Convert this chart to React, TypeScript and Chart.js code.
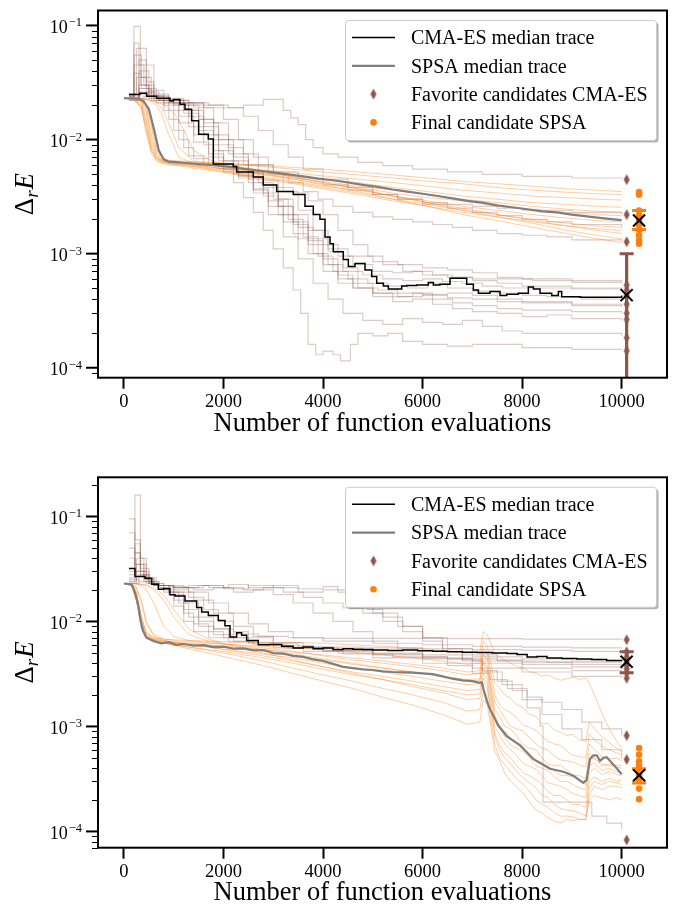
import React, { useEffect, useRef } from "react";
import { Chart, registerables } from "chart.js";

Chart.register(...registerables);

const FONT = "'Liberation Serif', 'Times New Roman', serif";
const BROWN = "#8c564b";
const ORANGE = "#ff7f0e";
const MILLI = 1e-3; // all ΔrE values below are written in units of 1e-3

const xTickValues = [0, 2000, 4000, 6000, 8000, 10000];
const yMajorExponents = [-4, -3, -2, -1];
const xTitle = "Number of function evaluations";
const legendLabels = [
  "CMA-ES median trace",
  "SPSA median trace",
  "Favorite candidates CMA-ES",
  "Final candidate SPSA",
];

const FAV_X = 10100;
const FINAL_X = 10350;

type Pair = [number, number];

// ===================== TOP PANEL =====================
const topCma01: Pair[] = [[100,23],[200,98],[330,30],[500,24],[800,21],[1100,16],[1400,11],[1700,7.5],[2000,5.2],[2200,4.2],[2400,3.1],[2600,2.3],[2800,1.6],[3000,1.1],[3200,0.75],[3400,0.48],[3550,0.3],[3700,0.16],[3850,0.13],[4000,0.14],[4200,0.13],[4350,0.115],[4550,0.16],[4700,0.2],[5000,0.19],[5300,0.2],[5600,0.17],[6000,0.16],[6500,0.155],[7000,0.16],[8000,0.15],[9000,0.145],[10000,0.142]];
const topCma02: Pair[] = [[100,25],[250,63],[450,45],[600,25],[900,22],[1200,17],[1500,12],[1800,8],[2000,6.5],[2300,4.8],[2600,3.4],[2900,2.2],[3200,1.4],[3500,0.9],[3800,0.55],[4100,0.4],[4400,0.3],[4800,0.26],[5200,0.24],[5600,0.27],[6000,0.25],[6400,0.24],[6800,0.26],[7200,0.23],[7600,0.21],[8000,0.2],[9000,0.2],[10000,0.19]];
const topCma03: Pair[] = [[100,24],[200,55],[350,35],[550,24],[900,22],[1300,20],[1600,14],[1900,10],[2200,7],[2500,5.2],[2800,3.8],[3100,2.6],[3400,1.8],[3700,1.2],[4000,0.8],[4300,0.6],[4600,0.5],[5000,0.42],[5400,0.38],[5800,0.4],[6200,0.36],[6600,0.33],[7000,0.31],[7500,0.3],[8000,0.28],[8500,0.29],[9000,0.27],[10000,0.26]];
const topCma04: Pair[] = [[100,23],[300,40],[500,27],[800,23],[1200,21],[1600,19],[2000,15],[2300,10],[2600,7],[2900,5],[3200,3.5],[3500,2.4],[3800,1.6],[4100,1.05],[4400,0.75],[4700,0.55],[5000,0.45],[5400,0.42],[5800,0.45],[6200,0.4],[6600,0.37],[7000,0.35],[7500,0.33],[8000,0.32],[9000,0.31],[10000,0.3]];
const topCma05: Pair[] = [[100,22],[300,30],[500,24],[700,22],[1000,18],[1300,13],[1600,9],[1900,6.5],[2200,5.5],[2500,4.5],[2800,3.2],[3100,2.2],[3400,1.5],[3700,1.0],[4000,0.7],[4300,0.55],[4700,0.5],[5100,0.48],[5500,0.45],[6000,0.43],[6500,0.41],[7000,0.4],[7500,0.38],[8000,0.37],[9000,0.35],[10000,0.34]];
const topCma06: Pair[] = [[100,24],[200,45],[400,30],[600,23],[900,21],[1200,18],[1500,15],[1800,11],[2100,8.5],[2400,6],[2700,4.2],[3000,3.0],[3300,2.0],[3600,1.4],[3900,0.95],[4200,0.7],[4500,0.6],[4900,0.55],[5300,0.52],[5700,0.5],[6100,0.55],[6500,0.5],[7000,0.47],[7500,0.45],[8000,0.43],[8500,0.42],[9200,0.4],[10000,0.39]];
const topCma07: Pair[] = [[100,23],[300,28],[500,23],[800,20],[1100,14],[1400,9.5],[1700,7],[2000,5.8],[2300,4.8],[2600,3.6],[2900,2.6],[3200,1.9],[3500,1.35],[3800,1.0],[4100,0.8],[4400,0.7],[4800,0.65],[5200,0.6],[5600,0.58],[6000,0.6],[6400,0.57],[6800,0.55],[7200,0.52],[7600,0.5],[8200,0.5],[9000,0.49],[10000,0.48]];
const topCma08: Pair[] = [[100,25],[250,35],[450,26],[700,22],[1000,20],[1300,16],[1600,11],[1900,8],[2200,6],[2500,5],[2800,4],[3100,3],[3400,2.2],[3700,1.6],[4000,1.2],[4300,0.95],[4600,0.8],[5000,0.7],[5400,0.68],[5800,0.7],[6200,0.65],[6600,0.62],[7000,0.6],[7600,0.6],[8200,0.58],[9000,0.56],[10000,0.55]];
const topCma09: Pair[] = [[100,23],[300,25],[600,22],[1000,21],[1400,19],[1800,14],[2100,10],[2400,7.5],[2700,6],[3000,5],[3300,4.2],[3600,3.5],[3900,3.0],[4200,2.6],[4600,2.3],[5000,2.1],[5400,2.0],[5800,1.9],[6200,1.8],[6600,1.7],[7000,1.6],[7500,1.5],[8000,1.45],[8500,1.4],[9000,1.32],[10000,1.27]];
const topCma10: Pair[] = [[100,24],[300,23],[700,22],[1100,20],[1500,15],[1800,10],[2100,7.5],[2500,6],[3000,5.2],[3500,4.6],[4000,4.0],[4500,3.6],[5000,3.3],[5500,3.0],[6000,2.8],[6500,2.7],[7000,2.6],[7500,2.5],[8000,2.4],[9000,2.3],[10000,2.2]];
const topCma11: Pair[] = [[100,22],[400,24],[800,22],[1200,21],[1600,20],[2000,19],[2400,20],[2800,22.5],[3200,18],[3350,15.5],[3500,13.5],[3650,10],[3800,8.5],[4000,7.5],[4300,7],[4700,6.3],[5200,5.9],[5800,5.5],[6500,5.2],[7200,4.95],[8000,4.75],[9000,4.6],[10000,4.5]];
const topCma12: Pair[] = [[100,23],[300,26],[600,23],[900,22],[1300,21],[1700,20],[2100,19],[2400,16],[2700,12],[3000,9],[3300,7],[3600,5.5],[4000,4.5],[4500,3.8],[5000,3.3],[5500,3.0],[6000,2.7],[6500,2.5],[7000,2.3],[7500,2.15],[8000,2.0],[8500,1.9],[9000,1.8],[10000,1.7]];
const topCma13: Pair[] = [[100,24],[200,38],[350,28],[550,22],[800,18],[1000,12],[1200,8.5],[1400,6.8],[1700,6],[2000,5.5],[2300,4.6],[2600,3.7],[2900,2.9],[3200,2.2],[3500,1.7],[3800,1.35],[4100,1.1],[4500,0.95],[5000,0.85],[5500,0.8],[6000,0.75],[6500,0.72],[7000,0.68],[7500,0.62],[8000,0.6],[9000,0.58],[10000,0.57]];
const topCma14: Pair[] = [[100,23],[200,70],[300,45],[450,28],[650,21],[900,15],[1100,10],[1300,7.2],[1600,6.2],[1900,5.6],[2200,5.0],[2500,4.2],[2800,3.4],[3100,2.6],[3400,1.9],[3700,1.3],[4000,0.9],[4300,0.65],[4600,0.5],[5000,0.45],[5500,0.42],[6000,0.44],[6500,0.45],[7000,0.43],[7500,0.4],[8000,0.38],[9000,0.36],[10000,0.35]];
const topCma15: Pair[] = [[100,25],[300,50],[450,32],[600,24],[900,21],[1300,18],[1600,13],[1900,9],[2200,6.5],[2500,5.2],[2800,4.4],[3100,3.8],[3400,3.4],[3700,2.9],[4000,2.2],[4300,1.6],[4600,1.2],[4900,0.95],[5200,0.8],[5600,0.7],[6000,0.65],[6500,0.62],[7000,0.58],[7500,0.55],[8000,0.52],[9000,0.5],[10000,0.49]];

const topSpsaX = [0,200,350,450,550,650,750,900,1100,1400,1800,2300,2800,3400,4000,4700,5400,6100,6800,7500,8200,8900,9500,10000];
const topSpsa01 = [23,23,22.6,20,14,8.5,7.0,6.6,6.5,6.4,6.3,6.1,5.9,5.7,5.5,5.2,4.9,4.6,4.3,4.1,3.9,3.7,3.6,3.5];
const topSpsa02 = [23,23,22,18,11,7.5,6.7,6.5,6.4,6.3,6.2,6.0,5.8,5.5,5.2,4.9,4.6,4.3,4.1,3.8,3.6,3.45,3.35,3.3];
const topSpsa03 = [23,22.8,21,15,9,7,6.6,6.4,6.3,6.2,6.0,5.7,5.4,5.1,4.8,4.5,4.2,3.9,3.6,3.4,3.2,3.1,3.0,2.95];
const topSpsa04 = [23,22.5,19,12,8,6.8,6.5,6.3,6.2,6.0,5.7,5.4,5.1,4.8,4.5,4.2,3.8,3.5,3.2,3.0,2.8,2.7,2.6,2.55];
const topSpsa05 = [23,22.7,20,14,8.5,6.9,6.4,6.2,6.1,5.9,5.6,5.3,5.0,4.6,4.3,3.9,3.6,3.3,3.0,2.8,2.6,2.45,2.35,2.3];
const topSpsa06 = [23,22.9,22,19,13,8,6.7,6.3,6.2,6.0,5.7,5.3,4.9,4.5,4.1,3.8,3.4,3.1,2.9,2.6,2.45,2.3,2.2,2.15];
const topSpsa07 = [23,22.6,19.5,13,8,6.6,6.3,6.1,6.0,5.8,5.5,5.1,4.7,4.3,3.9,3.6,3.2,2.9,2.6,2.4,2.2,2.05,1.95,1.9];
const topSpsa08 = [23,22.8,21.5,17,10,7.2,6.5,6.2,6.0,5.8,5.4,5.0,4.6,4.2,3.8,3.4,3.0,2.7,2.4,2.2,2.0,1.85,1.75,1.7];
const topSpsa09 = [23,22.5,19,11,7.5,6.5,6.2,6.0,5.9,5.6,5.3,4.9,4.5,4.1,3.7,3.3,2.9,2.6,2.3,2.1,1.9,1.75,1.65,1.6];
const topSpsa10 = [23,23,22.8,22.5,22,21,19,14,8.5,6.5,6.1,5.7,5.2,4.7,4.2,3.7,3.2,2.8,2.5,2.2,1.95,1.75,1.6,1.5];
const topSpsa11 = [23,23,22.8,22.6,22.2,21.5,20.5,19,15,8,6.4,5.8,5.3,4.7,4.2,3.7,3.2,2.8,2.4,2.1,1.85,1.6,1.45,1.35];
const topSpsa12 = [23,23,22.7,22.3,21.5,20,17,11,7,6.2,5.9,5.5,5.0,4.5,4.0,3.5,3.0,2.6,2.2,1.95,1.7,1.5,1.35,1.25];

const topCmaMedian: Pair[] = [[100,24.8],[320,25.5],[456,24],[657,23],[924,21.8],[991,22.4],[1125,20.4],[1226,18.4],[1360,14.6],[1500,11.1],[1694,10.1],[1795,6.1],[2196,5.8],[2264,5.2],[2598,4.7],[2799,4.0],[3068,3.5],[3402,3.3],[3637,2.6],[3804,2.2],[3938,2.0],[4039,1.4],[4140,1.22],[4206,1.04],[4407,0.89],[4508,0.77],[4642,0.82],[4843,0.72],[4977,0.63],[5078,0.55],[5212,0.52],[5312,0.49],[5580,0.52],[5680,0.525],[5881,0.53],[6116,0.56],[6216,0.53],[6350,0.54],[6551,0.61],[6886,0.54],[7020,0.48],[7121,0.45],[7355,0.465],[7556,0.43],[7690,0.44],[7924,0.45],[8125,0.51],[8226,0.49],[8360,0.45],[8594,0.43],[8728,0.465],[8795,0.42],[9163,0.415],[10000,0.43]];
const topSpsaMedian: Pair[] = [[0,23],[300,22.8],[400,21.5],[500,18.5],[600,12.5],[700,8.0],[800,6.7],[900,6.4],[1100,6.3],[1300,6.2],[1500,6.1],[1800,5.95],[2100,5.8],[2400,5.55],[2700,5.35],[3000,5.15],[3300,4.95],[3600,4.75],[3900,4.55],[4200,4.4],[4500,4.2],[4800,4.0],[5100,3.85],[5400,3.65],[5700,3.5],[6000,3.35],[6300,3.2],[6600,3.05],[6900,2.9],[7200,2.8],[7500,2.65],[7800,2.55],[8100,2.45],[8400,2.35],[8700,2.3],[9000,2.2],[9300,2.12],[9600,2.05],[10000,1.97]];

const topFavCma = [4.45, 2.2, 1.27, 0.53, 0.48, 0.43, 0.36, 0.3, 0.265, 0.183, 0.141];
const topFinalSpsa = [3.46, 3.29, 2.39, 2.16, 1.95, 1.77, 1.6, 1.44, 1.3, 1.22];
const topCmaMedFinal = 0.433;
const topSpsaMedFinal = 1.95;
const topCmaErr: Pair = [1.0, 0.0001];
const topSpsaErr: Pair = [2.39, 1.63];

// ===================== BOTTOM PANEL =====================
const botCma01: Pair[] = [[100,24],[220,160],[330,40],[450,26],[650,22],[900,18],[1200,13],[1500,10],[1800,8.5],[2200,7.6],[2700,7.2],[3300,7.0],[4000,6.9],[5000,6.9],[6500,6.85],[8000,6.8],[10000,6.75]];
const botCma02: Pair[] = [[100,95],[220,60],[330,35],[450,25],[600,23],[800,20],[1000,16],[1200,12],[1400,9.5],[1700,8],[2000,7],[2500,6.3],[3000,5.9],[3800,5.7],[4800,5.6],[6000,5.5],[7000,5.4],[8000,5.3],[9000,5.2],[10000,5.15]];
const botCma03: Pair[] = [[100,70],[220,45],[330,30],[500,24],[700,21],[900,19],[1100,15],[1300,11],[1500,9],[1800,7.5],[2200,6.5],[2700,6.0],[3300,5.6],[4000,5.3],[5000,5.0],[6000,4.8],[7000,4.6],[8000,4.4],[9000,4.2],[10000,4.1]];
const botCma04: Pair[] = [[100,50],[220,35],[330,27],[500,23],[700,22],[1000,20],[1300,17],[1600,13],[1900,10],[2200,8],[2500,7],[3000,6.2],[3500,5.7],[4200,5.3],[5000,4.9],[6000,4.5],[7000,4.2],[8000,3.9],[9000,3.7],[10000,3.55]];
const botCma05: Pair[] = [[100,40],[220,30],[400,25],[600,22],[800,19],[1000,14],[1200,10],[1400,8],[1700,7],[2100,6.4],[2600,6.0],[3200,5.6],[4000,5.2],[5000,4.8],[6000,4.4],[7000,4.0],[8000,3.6],[9000,3.4],[10000,3.25]];
const botCma06: Pair[] = [[100,30],[220,45],[330,28],[500,23],[700,21],[1000,19],[1400,16],[1800,12],[2200,9],[2600,7.2],[3000,6.3],[3600,5.6],[4300,5.0],[5000,4.5],[6000,4.0],[7000,3.6],[8000,3.3],[9000,3.0],[10000,2.9]];
const botCma07: Pair[] = [[100,26],[250,35],[400,24],[600,22],[900,21.5],[1300,22],[1700,21],[2100,22.5],[2500,21],[3000,22],[3500,20.5],[4000,21.5],[4300,19],[4600,15],[4900,13],[5200,11],[5600,9],[6000,7],[6400,5.5],[6800,4.3],[7200,3.4],[7500,2.7],[7800,2.2],[8100,1.9],[8400,1.7],[8800,1.45],[9200,1.1],[9600,0.95],[10000,0.82]];
const botCma08: Pair[] = [[100,23],[300,28],[500,23],[800,22],[1200,21],[1600,22],[2000,21],[2400,20],[2800,21],[3200,19],[3600,17],[4000,15],[4400,13.5],[4800,12],[5200,10],[5600,8],[6000,6.5],[6400,5.2],[6800,4.2],[7200,3.3],[7600,2.5],[8000,1.8],[8400,1.3],[8800,0.95],[9200,0.75],[9600,0.6],[10000,0.49]];
const botCma09: Pair[] = [[100,24],[250,30],[450,23],[700,22],[1000,21],[1400,20],[1800,21],[2200,19],[2600,20],[3000,18],[3400,15],[3800,12],[4200,10],[4600,8],[5000,6.5],[5500,5.5],[6000,4.6],[6500,3.8],[7000,3.2],[7350,2.8],[7700,2.3],[8100,1.5],[8360,1.0],[8420,0.19],[9360,0.19],[9400,0.14],[9700,0.12],[10000,0.105]];
const botCma10: Pair[] = [[100,25],[300,24],[600,22],[1000,21],[1500,22],[2000,20.5],[2500,22],[3000,21],[3500,19],[4000,20],[4500,17],[5000,12],[5500,9],[6000,7],[6500,5.5],[7000,4.8],[7500,4.3],[8000,4.1],[9000,3.9],[10000,3.8]];
const botCma11: Pair[] = [[100,23],[250,40],[400,26],[600,22],[900,19],[1200,15],[1500,11],[1800,8.5],[2100,7],[2500,6.2],[3000,5.6],[3600,5.2],[4400,4.9],[5400,4.6],[6500,4.4],[7500,4.2],[8500,4.1],[10000,4.0]];
const botCma12: Pair[] = [[100,28],[220,55],[330,32],[500,24],[700,22],[1000,21],[1300,19],[1700,15],[2100,12],[2500,9.5],[2900,8],[3400,7],[4000,6.5],[5000,6.2],[6000,6.0],[7000,5.8],[8000,5.7],[9000,5.6],[10000,5.5]];

const botSpsaX = [0,150,250,350,450,600,800,1000,1300,1700,2200,2800,3400,4000,4600,5200,5800,6400,6900,7150,7220,7300,7450,7550,7650,7770,7900,8030,8150,8280,8400,8520,8650,8770,8900,9020,9150,9280,9350,9450,9600,9750,9900,10000];
const botSpsa01 = [23,22.6,19,11,7.8,7.0,6.8,6.7,6.6,6.5, 6.4,6.3,6.3,6.2,6.0,5.8,5.6,5.3,5.0,5.1,8.0,7.4, 5.0,4.6,4.3,4.0,3.7,3.6,3.3,3.25,3.0,3.1,2.9,2.75,2.85,2.95,2.8,2.9,2.6,2.0,1.35,0.95,0.72,0.62];
const botSpsa02 = [23,22.8,21,16,10,7.5,6.8,6.6,6.4,6.2, 6.0,5.8,5.6,5.4,5.1,4.8,4.5,4.2,3.9,4.0,6.5,5.8, 2.6,2.3,2.0,1.85,1.6,1.5,1.3,1.25,1.05,1.08,0.92,0.88,0.82,0.84,0.75,0.72,1.1,0.95,0.8,0.7,0.62,0.58];
const botSpsa03 = [23,22,16,9,7.2,6.8,6.5,6.3,6.1,5.9, 5.7,5.4,5.1,4.8,4.5,4.2,3.9,3.6,3.3,3.4,5.5,5.0, 2.0,1.6,1.45,1.35,1.2,1.02,0.98,0.92,0.8,0.72,0.68,0.66,0.58,0.53,0.52,0.5,0.85,0.75,0.65,0.6,0.56,0.54];
const botSpsa04 = [23,23,22.7,22,20,15,9,7.2,6.6,6.3, 6.0,5.6,5.2,4.7,4.3,4.0,3.7,3.4,3.1,3.2,4.8,4.4, 1.7,1.45,1.2,1.0,0.95,0.9,0.78,0.68,0.62,0.6,0.52,0.48,0.47,0.46,0.43,0.41,0.68,0.6,0.52,0.49,0.5,0.47];
const botSpsa05 = [23,22.6,19,11,7.8,7.0,6.6,6.4,6.2,6.0, 5.6,5.2,4.7,4.3,3.9,3.6,3.3,3.0,2.8,2.85,4.2,3.8, 1.45,1.25,1.0,0.95,0.8,0.66,0.62,0.6,0.5,0.44,0.42,0.43,0.38,0.34,0.34,0.32,0.55,0.5,0.44,0.42,0.43,0.42];
const botSpsa06 = [23,23,22.8,22.5,22,20,16,11,7.5,6.5, 5.9,5.4,4.9,4.4,4.0,3.6,3.3,3.0,2.7,2.75,4.0,3.5, 1.3,1.0,0.9,0.78,0.68,0.62,0.55,0.48,0.45,0.42,0.38,0.34,0.34,0.33,0.3,0.28,0.48,0.5,0.42,0.44,0.41,0.40];
const botSpsa07 = [23,22.6,18,10,7.5,6.8,6.5,6.3,6.0,5.7, 5.3,4.9,4.5,4.0,3.6,3.3,3.0,2.7,2.5,2.55,3.6,3.2, 1.2,0.98,0.8,0.66,0.62,0.57,0.5,0.42,0.4,0.38,0.33,0.3,0.3,0.28,0.26,0.25,0.42,0.45,0.38,0.4,0.37,0.36];
const botSpsa08 = [23,22.8,21,15,9.5,7.3,6.6,6.3,6.0,5.7, 5.2,4.7,4.2,3.7,3.3,3.0,2.7,2.4,2.2,2.25,3.2,2.8, 1.0,0.82,0.68,0.6,0.52,0.44,0.42,0.39,0.34,0.29,0.28,0.27,0.25,0.23,0.22,0.21,0.36,0.4,0.35,0.37,0.35,0.34];
const botSpsa09 = [23,22,16,9,7.2,6.6,6.3,6.0,5.7,5.4, 5.0,4.5,4.0,3.5,3.1,2.8,2.5,2.2,2.0,2.05,2.9,2.5, 0.85,0.66,0.56,0.5,0.42,0.36,0.34,0.31,0.28,0.24,0.22,0.22,0.2,0.18,0.18,0.17,0.3,0.33,0.3,0.32,0.3,0.31];
const botSpsa10 = [23,23,22.9,22.7,22.3,21,18,13,8.5,6.8, 5.8,5.0,4.3,3.7,3.2,2.8,2.4,2.1,1.8,1.85,2.6,2.3, 0.8,0.6,0.5,0.44,0.37,0.32,0.29,0.26,0.22,0.21,0.18,0.165,0.16,0.158,0.15,0.14,0.26,0.3,0.28,0.3,0.29,0.28];
const botSpsa11 = [23,22.5,18,10,7.4,6.7,6.3,6.0,5.7,5.3, 4.8,4.2,3.6,3.1,2.7,2.3,2.0,1.7,1.4,1.45,2.2,1.9, 0.68,0.5,0.43,0.37,0.31,0.28,0.24,0.2,0.18,0.17,0.15,0.14,0.14,0.138,0.13,0.13,0.22,0.27,0.25,0.27,0.27,0.26];
const botSpsa12 = [23,22,16,8.5,7.0,6.5,6.2,5.9,5.5,5.0, 4.4,3.8,3.2,2.7,2.3,1.9,1.6,1.3,1.05,1.1,1.8,1.6, 0.58,0.47,0.36,0.3,0.26,0.23,0.19,0.16,0.15,0.135,0.125,0.12,0.13,0.127,0.13,0.13,0.2,0.22,0.21,0.2,0.21,0.20];

const botCmaMedian: Pair[] = [[100,31.9],[221,26.8],[422,25.8],[556,22.6],[690,20.3],[791,20.5],[924,18],[1025,17.5],[1226,15.7],[1460,13.6],[1561,12.3],[1695,11.4],[1895,10.2],[2029,9.1],[2130,7.1],[2264,7.8],[2364,7.4],[2465,6.6],[2699,6.0],[2933,6.05],[3168,5.8],[3400,5.6],[3600,5.7],[3800,5.5],[4000,5.6],[4200,5.4],[4400,5.5],[4600,5.45],[4800,5.4],[5000,5.35],[5300,5.3],[5600,5.35],[5900,5.25],[6200,5.2],[6500,5.15],[6800,5.1],[7100,5.05],[7400,5.0],[7700,4.95],[7900,4.85],[8100,4.6],[8300,4.65],[8500,4.5],[8800,4.45],[9100,4.4],[9400,4.35],[9700,4.25],[10000,4.2]];
const botSpsaMedian: Pair[] = [[0,23],[150,22.6],[200,20.3],[260,16],[290,14],[330,10.5],[380,8.2],[450,7.0],[600,6.5],[750,6.2],[900,6.35],[1050,6.0],[1200,6.1],[1400,5.9],[1600,5.95],[1800,5.7],[2000,5.75],[2200,5.5],[2400,5.55],[2600,5.3],[2800,5.35],[3000,5.0],[3200,4.95],[3400,4.7],[3600,4.6],[3800,4.35],[4000,4.2],[4200,3.95],[4400,3.7],[4600,3.6],[4800,3.5],[5000,3.45],[5200,3.35],[5400,3.3],[5600,3.28],[5800,3.25],[6000,3.2],[6200,3.15],[6400,3.0],[6600,2.85],[6800,2.75],[7000,2.7],[7150,2.6],[7190,2.63],[7220,2.3],[7290,1.75],[7350,1.47],[7420,1.27],[7520,1.02],[7690,0.81],[7960,0.66],[8220,0.49],[8560,0.395],[8830,0.37],[9030,0.34],[9230,0.29],[9296,0.31],[9364,0.49],[9430,0.53],[9500,0.53],[9564,0.47],[9630,0.5],[9700,0.51],[9800,0.45],[9900,0.4],[10000,0.35]];

const botFavCma = [6.7, 5.15, 4.6, 4.14, 3.8, 3.53, 3.24, 2.88, 0.82, 0.485, 0.083];
const botFinalSpsa = [0.624, 0.539, 0.465, 0.424, 0.396, 0.343, 0.307, 0.256, 0.203];
const botCmaMedFinal = 4.14;
const botSpsaMedFinal = 0.343;
const botCmaErr: Pair = [5.15, 3.24];
const botSpsaErr: Pair = [0.396, 0.29];

interface PanelData {
  cma: Pair[][];
  spsaX: number[];
  spsa: number[][];
  cmaMedian: Pair[];
  spsaMedian: Pair[];
  favCma: number[];
  finalSpsa: number[];
  cmaMedFinal: number;
  spsaMedFinal: number;
  cmaErr: Pair;
  spsaErr: Pair;
  yMin: number;
  yMax: number;
}

const topPanel: PanelData = {
  cma: [topCma01, topCma02, topCma03, topCma04, topCma05, topCma06, topCma07, topCma08, topCma09, topCma10, topCma11, topCma12, topCma13, topCma14, topCma15],
  spsaX: topSpsaX,
  spsa: [topSpsa01, topSpsa02, topSpsa03, topSpsa04, topSpsa05, topSpsa06, topSpsa07, topSpsa08, topSpsa09, topSpsa10, topSpsa11, topSpsa12],
  cmaMedian: topCmaMedian,
  spsaMedian: topSpsaMedian,
  favCma: topFavCma,
  finalSpsa: topFinalSpsa,
  cmaMedFinal: topCmaMedFinal,
  spsaMedFinal: topSpsaMedFinal,
  cmaErr: topCmaErr,
  spsaErr: topSpsaErr,
  yMin: 8.18e-5,
  yMax: 0.1352,
};

const botPanel: PanelData = {
  cma: [botCma01, botCma02, botCma03, botCma04, botCma05, botCma06, botCma07, botCma08, botCma09, botCma10, botCma11, botCma12],
  spsaX: botSpsaX,
  spsa: [botSpsa01, botSpsa02, botSpsa03, botSpsa04, botSpsa05, botSpsa06, botSpsa07, botSpsa08, botSpsa09, botSpsa10, botSpsa11, botSpsa12],
  cmaMedian: botCmaMedian,
  spsaMedian: botSpsaMedian,
  favCma: botFavCma,
  finalSpsa: botFinalSpsa,
  cmaMedFinal: botCmaMedFinal,
  spsaMedFinal: botSpsaMedFinal,
  cmaErr: botCmaErr,
  spsaErr: botSpsaErr,
  yMin: 7.3e-5,
  yMax: 0.2362,
};

const pairs = (arr: Pair[]) => arr.map(([x, m]) => ({ x, y: m * MILLI }));
const onGrid = (xs: number[], ys: number[]) => xs.map((x, i) => ({ x, y: ys[i] * MILLI }));

function makeDiamond(): HTMLCanvasElement {
  const c = document.createElement("canvas");
  c.width = 8;
  c.height = 12;
  const g = c.getContext("2d")!;
  g.fillStyle = BROWN;
  g.beginPath();
  g.moveTo(4, 0.5);
  g.lineTo(7, 6);
  g.lineTo(4, 11.5);
  g.lineTo(1, 6);
  g.closePath();
  g.fill();
  return c;
}

function buildDatasets(p: PanelData, diamond: HTMLCanvasElement) {
  const ds: any[] = [];
  p.cma.forEach((t) =>
    ds.push({ data: pairs(t), borderColor: "rgba(140,86,75,0.3)", borderWidth: 1.2, pointRadius: 0, stepped: true, order: 20 })
  );
  p.spsa.forEach((t) =>
    ds.push({ data: onGrid(p.spsaX, t), borderColor: "rgba(255,127,14,0.38)", borderWidth: 1, pointRadius: 0, order: 19 })
  );
  ds.push({ data: pairs(p.spsaMedian), borderColor: "#7f7f7f", borderWidth: 2.2, pointRadius: 0, order: 11 });
  ds.push({ data: pairs(p.cmaMedian), borderColor: "#000000", borderWidth: 1.5, pointRadius: 0, stepped: true, order: 10 });
  ds.push({
    data: p.favCma.map((v) => ({ x: FAV_X, y: v * MILLI })),
    showLine: false, pointStyle: diamond, pointRadius: 5, order: 8,
  });
  ds.push({
    data: p.finalSpsa.map((v) => ({ x: FINAL_X, y: v * MILLI })),
    showLine: false, pointStyle: "circle", pointRadius: 3.3, pointBackgroundColor: ORANGE,
    pointBorderColor: ORANGE, pointBorderWidth: 0, order: 8,
  });
  const err = (x: number, lim: Pair, c: string) => {
    const d = [{ x, y: lim[0] * MILLI }, { x, y: lim[1] * MILLI }];
    ds.push({ data: d, borderColor: c, borderWidth: 3.2, pointRadius: 0, order: 6 });
    ds.push({ data: d, showLine: false, pointStyle: "line", pointRadius: 7, pointBorderColor: c, pointBorderWidth: 3, order: 5 });
  };
  err(FAV_X, p.cmaErr, BROWN);
  err(FINAL_X, p.spsaErr, ORANGE);
  ds.push({
    data: [{ x: FAV_X, y: p.cmaMedFinal * MILLI }, { x: FINAL_X, y: p.spsaMedFinal * MILLI }],
    showLine: false, pointStyle: "crossRot", pointRadius: 8.5, pointBorderColor: "#000",
    pointBackgroundColor: "#000", pointBorderWidth: 2, order: 1,
  });
  return ds;
}

function decoPlugin(diamond: HTMLCanvasElement) {
  return {
    id: "deco",
    afterDraw(chart: any) {
      const { ctx, chartArea: a, scales } = chart;
      const y = scales.y;
      ctx.save();
      const lo = Math.floor(Math.log10(y.min));
      const hi = Math.ceil(Math.log10(y.max));
      ctx.strokeStyle = "#000";
      for (let e = lo; e <= hi; e++) {
        for (let m = 2; m <= 9; m++) {
          const v = m * Math.pow(10, e);
          if (v < y.min || v > y.max) continue;
          const py = Math.round(y.getPixelForValue(v)) + 0.5;
          ctx.lineWidth = 1;
          ctx.beginPath();
          ctx.moveTo(a.left - 6, py);
          ctx.lineTo(a.left, py);
          ctx.stroke();
        }
      }
      ctx.fillStyle = "#000";
      ctx.textAlign = "left";
      ctx.textBaseline = "alphabetic";
      yMajorExponents.forEach((e) => {
        const v = Math.pow(10, e);
        if (v < y.min || v > y.max) return;
        const py = y.getPixelForValue(v);
        ctx.lineWidth = 2;
        ctx.beginPath();
        ctx.moveTo(a.left - 12, py);
        ctx.lineTo(a.left, py);
        ctx.stroke();
        const base = "10";
        const sup = "\u2212" + Math.abs(e);
        ctx.font = `18px ${FONT}`;
        const wb = ctx.measureText(base).width;
        ctx.font = `12.5px ${FONT}`;
        const ws = ctx.measureText(sup).width;
        const xr = a.left - 16;
        ctx.font = `18px ${FONT}`;
        ctx.fillText(base, xr - ws - wb - 1, py + 7.5);
        ctx.font = `12.5px ${FONT}`;
        ctx.fillText(sup, xr - ws, py + 1);
      });
      // y title ΔrE
      ctx.save();
      const cy = (a.top + a.bottom) / 2;
      ctx.translate(33, cy);
      ctx.rotate(-Math.PI / 2);
      ctx.font = `27px ${FONT}`;
      const wD = ctx.measureText("\u0394").width;
      ctx.font = `italic 19px ${FONT}`;
      const wr = ctx.measureText("r").width;
      ctx.font = `italic 27px ${FONT}`;
      const wE = ctx.measureText("E").width;
      const tot = wD + wr + wE + 1;
      let x0 = -tot / 2;
      ctx.font = `27px ${FONT}`;
      ctx.fillText("\u0394", x0, 0);
      x0 += wD;
      ctx.font = `italic 19px ${FONT}`;
      ctx.fillText("r", x0, 5);
      x0 += wr + 1;
      ctx.font = `italic 27px ${FONT}`;
      ctx.fillText("E", x0, 0);
      ctx.restore();
      // spines
      ctx.lineWidth = 2;
      ctx.strokeStyle = "#000";
      ctx.strokeRect(a.left, a.top, a.right - a.left, a.bottom - a.top);
      // legend
      const bx = a.right - 321.5;
      const by = a.top + 10;
      const bw = 311;
      const bh = 120;
      ctx.fillStyle = "rgba(0,0,0,0.3)";
      ctx.beginPath();
      (ctx as any).roundRect(bx + 2, by + 2, bw, bh, 3);
      ctx.fill();
      ctx.fillStyle = "#ffffff";
      ctx.beginPath();
      (ctx as any).roundRect(bx, by, bw, bh, 3);
      ctx.fill();
      ctx.strokeStyle = "#cccccc";
      ctx.lineWidth = 1;
      ctx.stroke();
      legendLabels.forEach((lab, i) => {
        const ry = a.top + 27 + i * 28.3;
        const hx0 = a.right - 315;
        const hx1 = a.right - 272;
        const hm = (hx0 + hx1) / 2;
        if (i === 0 || i === 1) {
          ctx.strokeStyle = i === 0 ? "#000" : "#7f7f7f";
          ctx.lineWidth = i === 0 ? 1.6 : 2.2;
          ctx.beginPath();
          ctx.moveTo(hx0, ry);
          ctx.lineTo(hx1, ry);
          ctx.stroke();
        } else if (i === 2) {
          ctx.drawImage(diamond, hm - diamond.width / 2, ry - diamond.height / 2);
        } else {
          ctx.fillStyle = ORANGE;
          ctx.beginPath();
          ctx.arc(hm, ry, 3.3, 0, Math.PI * 2);
          ctx.fill();
        }
        ctx.fillStyle = "#000";
        ctx.font = `20px ${FONT}`;
        ctx.textBaseline = "alphabetic";
        ctx.fillText(lab, a.right - 256, ry + 6.7);
      });
      ctx.restore();
    },
  };
}

function Panel({ data, top, height, padTop, axisH, titlePad }: { data: PanelData; top: number; height: number; padTop: number; axisH: number; titlePad: number }) {
  const ref = useRef<HTMLCanvasElement>(null);
  useEffect(() => {
    const diamond = makeDiamond();
    const chart = new Chart(ref.current!, {
      type: "line",
      data: { datasets: buildDatasets(data, diamond) },
      options: {
        animation: false,
        responsive: false,
        devicePixelRatio: 1,
        events: [],
        layout: { padding: { left: 0, right: 13, top: padTop, bottom: 0 } },
        plugins: { legend: { display: false }, tooltip: { enabled: false } },
        scales: {
          x: {
            type: "linear",
            min: -522,
            max: 10911,
            afterBuildTicks: (s: any) => {
              s.ticks = xTickValues.map((v) => ({ value: v }));
            },
            afterFit: (s: any) => {
              s.height = axisH;
            },
            ticks: {
              callback: (v: any) => String(v),
              font: { family: FONT, size: 18.5 },
              color: "#000",
              padding: 2,
              maxRotation: 0,
              autoSkip: false,
            },
            grid: { display: true, drawOnChartArea: false, drawTicks: true, tickLength: 11, tickWidth: 2, tickColor: "#000" },
            border: { display: false },
            title: {
              display: true,
              text: xTitle,
              color: "#000",
              font: { family: FONT, size: 26.5, lineHeight: 1.0 },
              padding: { top: 0, bottom: titlePad },
            },
          },
          y: {
            type: "logarithmic",
            min: data.yMin,
            max: data.yMax,
            afterFit: (s: any) => {
              s.width = 98;
            },
            ticks: { display: false },
            grid: { display: false },
            border: { display: false },
          },
        },
      } as any,
      plugins: [decoPlugin(diamond)],
    });
    return () => chart.destroy();
  }, []);
  return (
    <canvas
      ref={ref}
      width={680}
      height={height}
      style={{ position: "absolute", left: 0, top, width: 680, height }}
    />
  );
}

export default function App() {
  return (
    <div style={{ position: "absolute", left: 0, top: 0, width: 680, height: 907, background: "#fff", overflow: "hidden" }}>
      <Panel data={topPanel} top={0} height={455} padTop={9} axisH={77.3} titlePad={17.25} />
      <Panel data={botPanel} top={455} height={452} padTop={22.3} axisH={59.3} titlePad={0.75} />
    </div>
  );
}
